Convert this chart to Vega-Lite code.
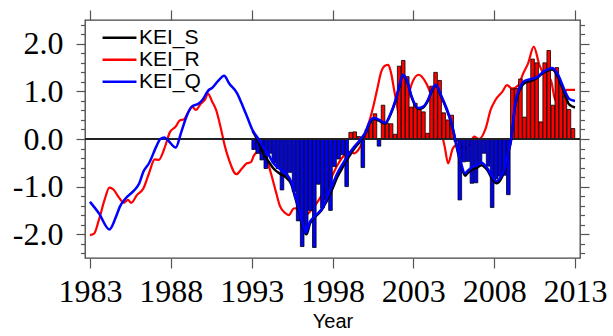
{
  "$schema": "https://vega.github.io/schema/vega-lite/v6.json",
  "width": 495,
  "height": 238,
  "autosize": {"type": "none"},
  "padding": {"left": 85, "top": 20, "right": 33, "bottom": 78},
  "background": "white",
  "view": {"stroke": "#444", "strokeWidth": 1.3},
  "config": {
    "axis": {"grid": false, "domain": false, "tickColor": "#555", "tickWidth": 1.2, "labelFont": "Liberation Serif", "labelFontSize": 32, "labelColor": "#000"}
  },
  "datasets": {
    "bars": [
      {"year": 1993.125, "value": -0.22}, {"year": 1993.375, "value": -0.3}, {"year": 1993.625, "value": -0.44}, {"year": 1993.875, "value": -0.62},
      {"year": 1994.125, "value": -0.3}, {"year": 1994.375, "value": -0.5}, {"year": 1994.625, "value": -0.62}, {"year": 1994.875, "value": -1.07},
      {"year": 1995.125, "value": -0.78}, {"year": 1995.375, "value": -0.7}, {"year": 1995.625, "value": -1.1}, {"year": 1995.875, "value": -1.72},
      {"year": 1996.125, "value": -2.26}, {"year": 1996.375, "value": -1.95}, {"year": 1996.625, "value": -1.5}, {"year": 1996.875, "value": -2.28},
      {"year": 1997.125, "value": -0.95}, {"year": 1997.375, "value": -1.45}, {"year": 1997.625, "value": -1.28}, {"year": 1997.875, "value": -1.5},
      {"year": 1998.125, "value": -0.58}, {"year": 1998.375, "value": -0.42}, {"year": 1998.625, "value": -0.33}, {"year": 1998.875, "value": -1.0},
      {"year": 1999.125, "value": 0.14}, {"year": 1999.375, "value": 0.15}, {"year": 1999.625, "value": 0.05}, {"year": 1999.875, "value": -0.6},
      {"year": 2000.125, "value": 0.2}, {"year": 2000.375, "value": 0.36}, {"year": 2000.625, "value": 0.53}, {"year": 2000.875, "value": -0.15},
      {"year": 2001.125, "value": 0.71}, {"year": 2001.375, "value": 0.33}, {"year": 2001.625, "value": 0.32}, {"year": 2001.875, "value": 0.1},
      {"year": 2002.125, "value": 1.53}, {"year": 2002.375, "value": 1.65}, {"year": 2002.625, "value": 1.31}, {"year": 2002.875, "value": 0.67},
      {"year": 2003.125, "value": 0.75}, {"year": 2003.375, "value": 0.62}, {"year": 2003.625, "value": 0.57}, {"year": 2003.875, "value": 0.12},
      {"year": 2004.125, "value": 1.11}, {"year": 2004.375, "value": 1.4}, {"year": 2004.625, "value": 1.23}, {"year": 2004.875, "value": 0.55},
      {"year": 2005.125, "value": 0.4}, {"year": 2005.375, "value": 0.5}, {"year": 2005.625, "value": -0.05}, {"year": 2005.875, "value": -1.28},
      {"year": 2006.125, "value": -0.48}, {"year": 2006.375, "value": -0.47}, {"year": 2006.625, "value": -0.93}, {"year": 2006.875, "value": -0.92},
      {"year": 2007.125, "value": -0.5}, {"year": 2007.375, "value": -0.3}, {"year": 2007.625, "value": -0.57}, {"year": 2007.875, "value": -1.44},
      {"year": 2008.125, "value": -0.83}, {"year": 2008.375, "value": -0.78}, {"year": 2008.625, "value": -0.76}, {"year": 2008.875, "value": -1.17},
      {"year": 2009.125, "value": 1.05}, {"year": 2009.375, "value": 1.06}, {"year": 2009.625, "value": 1.26}, {"year": 2009.875, "value": 0.46},
      {"year": 2010.125, "value": 1.24}, {"year": 2010.375, "value": 1.68}, {"year": 2010.625, "value": 1.6}, {"year": 2010.875, "value": 0.36},
      {"year": 2011.125, "value": 1.6}, {"year": 2011.375, "value": 1.86}, {"year": 2011.625, "value": 0.71}, {"year": 2011.875, "value": 1.5},
      {"year": 2012.125, "value": 1.17}, {"year": 2012.375, "value": 0.9}, {"year": 2012.625, "value": 0.62}, {"year": 2012.875, "value": 0.22}
    ],
    "lines": [
      {"series": "KEI_Q", "year": 1983.0, "value": -1.32}, {"series": "KEI_Q", "year": 1983.55, "value": -1.56}, {"series": "KEI_Q", "year": 1984.2, "value": -1.9},
      {"series": "KEI_Q", "year": 1984.6, "value": -1.64}, {"series": "KEI_Q", "year": 1984.85, "value": -1.42}, {"series": "KEI_Q", "year": 1985.2, "value": -1.25},
      {"series": "KEI_Q", "year": 1985.7, "value": -1.09}, {"series": "KEI_Q", "year": 1986.05, "value": -0.93}, {"series": "KEI_Q", "year": 1986.3, "value": -0.69},
      {"series": "KEI_Q", "year": 1986.65, "value": -0.51}, {"series": "KEI_Q", "year": 1987.1, "value": -0.16}, {"series": "KEI_Q", "year": 1987.35, "value": 0.0},
      {"series": "KEI_Q", "year": 1987.6, "value": 0.03}, {"series": "KEI_Q", "year": 1987.8, "value": -0.02}, {"series": "KEI_Q", "year": 1988.3, "value": -0.18},
      {"series": "KEI_Q", "year": 1988.65, "value": 0.15}, {"series": "KEI_Q", "year": 1989.0, "value": 0.5}, {"series": "KEI_Q", "year": 1989.3, "value": 0.68},
      {"series": "KEI_Q", "year": 1989.7, "value": 0.74}, {"series": "KEI_Q", "year": 1989.95, "value": 0.82}, {"series": "KEI_Q", "year": 1990.35, "value": 1.03},
      {"series": "KEI_Q", "year": 1990.55, "value": 1.07}, {"series": "KEI_Q", "year": 1990.9, "value": 1.21}, {"series": "KEI_Q", "year": 1991.3, "value": 1.33},
      {"series": "KEI_Q", "year": 1991.6, "value": 1.17}, {"series": "KEI_Q", "year": 1992.1, "value": 0.96}, {"series": "KEI_Q", "year": 1992.45, "value": 0.69},
      {"series": "KEI_Q", "year": 1992.75, "value": 0.44}, {"series": "KEI_Q", "year": 1993.05, "value": 0.19}, {"series": "KEI_Q", "year": 1993.4, "value": 0.01},
      {"series": "KEI_Q", "year": 1993.7, "value": -0.16}, {"series": "KEI_Q", "year": 1994.0, "value": -0.3}, {"series": "KEI_Q", "year": 1994.35, "value": -0.51},
      {"series": "KEI_Q", "year": 1994.7, "value": -0.62}, {"series": "KEI_Q", "year": 1995.1, "value": -0.72}, {"series": "KEI_Q", "year": 1995.45, "value": -0.9},
      {"series": "KEI_Q", "year": 1995.7, "value": -1.2}, {"series": "KEI_Q", "year": 1995.95, "value": -1.49}, {"series": "KEI_Q", "year": 1996.2, "value": -1.85},
      {"series": "KEI_Q", "year": 1996.35, "value": -1.97}, {"series": "KEI_Q", "year": 1996.6, "value": -1.74}, {"series": "KEI_Q", "year": 1996.85, "value": -1.64},
      {"series": "KEI_Q", "year": 1997.1, "value": -1.56}, {"series": "KEI_Q", "year": 1997.35, "value": -1.46}, {"series": "KEI_Q", "year": 1997.6, "value": -1.28},
      {"series": "KEI_Q", "year": 1997.95, "value": -1.0}, {"series": "KEI_Q", "year": 1998.3, "value": -0.72}, {"series": "KEI_Q", "year": 1998.65, "value": -0.51},
      {"series": "KEI_Q", "year": 1999.0, "value": -0.32}, {"series": "KEI_Q", "year": 1999.35, "value": -0.16}, {"series": "KEI_Q", "year": 1999.7, "value": -0.02},
      {"series": "KEI_Q", "year": 2000.05, "value": 0.15}, {"series": "KEI_Q", "year": 2000.3, "value": 0.36}, {"series": "KEI_Q", "year": 2000.55, "value": 0.44},
      {"series": "KEI_Q", "year": 2000.9, "value": 0.4}, {"series": "KEI_Q", "year": 2001.25, "value": 0.34}, {"series": "KEI_Q", "year": 2001.6, "value": 0.54},
      {"series": "KEI_Q", "year": 2001.9, "value": 0.82}, {"series": "KEI_Q", "year": 2002.15, "value": 1.14}, {"series": "KEI_Q", "year": 2002.35, "value": 1.35},
      {"series": "KEI_Q", "year": 2002.6, "value": 1.24}, {"series": "KEI_Q", "year": 2002.9, "value": 0.89}, {"series": "KEI_Q", "year": 2003.3, "value": 0.65},
      {"series": "KEI_Q", "year": 2003.6, "value": 0.68}, {"series": "KEI_Q", "year": 2003.9, "value": 0.82}, {"series": "KEI_Q", "year": 2004.2, "value": 1.07},
      {"series": "KEI_Q", "year": 2004.4, "value": 1.14}, {"series": "KEI_Q", "year": 2004.7, "value": 0.93}, {"series": "KEI_Q", "year": 2005.05, "value": 0.65},
      {"series": "KEI_Q", "year": 2005.4, "value": 0.29}, {"series": "KEI_Q", "year": 2005.65, "value": -0.09}, {"series": "KEI_Q", "year": 2005.9, "value": -0.44},
      {"series": "KEI_Q", "year": 2006.2, "value": -0.72}, {"series": "KEI_Q", "year": 2006.35, "value": -0.67}, {"series": "KEI_Q", "year": 2006.6, "value": -0.6},
      {"series": "KEI_Q", "year": 2006.95, "value": -0.55}, {"series": "KEI_Q", "year": 2007.2, "value": -0.5}, {"series": "KEI_Q", "year": 2007.55, "value": -0.6},
      {"series": "KEI_Q", "year": 2007.9, "value": -0.8}, {"series": "KEI_Q", "year": 2008.15, "value": -0.88}, {"series": "KEI_Q", "year": 2008.4, "value": -0.8},
      {"series": "KEI_Q", "year": 2008.65, "value": -0.62}, {"series": "KEI_Q", "year": 2008.85, "value": -0.3}, {"series": "KEI_Q", "year": 2009.05, "value": 0.0},
      {"series": "KEI_Q", "year": 2009.3, "value": 0.75}, {"series": "KEI_Q", "year": 2009.55, "value": 1.05}, {"series": "KEI_Q", "year": 2009.9, "value": 1.22},
      {"series": "KEI_Q", "year": 2010.3, "value": 1.26}, {"series": "KEI_Q", "year": 2010.65, "value": 1.3}, {"series": "KEI_Q", "year": 2011.0, "value": 1.4},
      {"series": "KEI_Q", "year": 2011.6, "value": 1.49}, {"series": "KEI_Q", "year": 2011.95, "value": 1.35}, {"series": "KEI_Q", "year": 2012.3, "value": 1.07},
      {"series": "KEI_Q", "year": 2012.65, "value": 0.84}, {"series": "KEI_Q", "year": 2013.0, "value": 0.8},

      {"series": "KEI_S", "year": 1993.05, "value": 0.17}, {"series": "KEI_S", "year": 1993.4, "value": -0.05}, {"series": "KEI_S", "year": 1993.7, "value": -0.3},
      {"series": "KEI_S", "year": 1994.0, "value": -0.45}, {"series": "KEI_S", "year": 1994.35, "value": -0.62}, {"series": "KEI_S", "year": 1994.7, "value": -0.72},
      {"series": "KEI_S", "year": 1995.1, "value": -0.8}, {"series": "KEI_S", "year": 1995.45, "value": -0.95}, {"series": "KEI_S", "year": 1995.7, "value": -1.24},
      {"series": "KEI_S", "year": 1995.95, "value": -1.55}, {"series": "KEI_S", "year": 1996.2, "value": -1.9}, {"series": "KEI_S", "year": 1996.4, "value": -2.0},
      {"series": "KEI_S", "year": 1996.6, "value": -1.78}, {"series": "KEI_S", "year": 1996.85, "value": -1.66}, {"series": "KEI_S", "year": 1997.1, "value": -1.58},
      {"series": "KEI_S", "year": 1997.35, "value": -1.48}, {"series": "KEI_S", "year": 1997.6, "value": -1.33}, {"series": "KEI_S", "year": 1997.95, "value": -1.08},
      {"series": "KEI_S", "year": 1998.3, "value": -0.8}, {"series": "KEI_S", "year": 1998.65, "value": -0.58}, {"series": "KEI_S", "year": 1999.0, "value": -0.38},
      {"series": "KEI_S", "year": 1999.35, "value": -0.2}, {"series": "KEI_S", "year": 1999.7, "value": -0.05}, {"series": "KEI_S", "year": 2000.05, "value": 0.12},
      {"series": "KEI_S", "year": 2000.3, "value": 0.33}, {"series": "KEI_S", "year": 2000.55, "value": 0.42}, {"series": "KEI_S", "year": 2000.9, "value": 0.38},
      {"series": "KEI_S", "year": 2001.25, "value": 0.32}, {"series": "KEI_S", "year": 2001.6, "value": 0.52}, {"series": "KEI_S", "year": 2001.9, "value": 0.8},
      {"series": "KEI_S", "year": 2002.15, "value": 1.12}, {"series": "KEI_S", "year": 2002.35, "value": 1.33}, {"series": "KEI_S", "year": 2002.6, "value": 1.22},
      {"series": "KEI_S", "year": 2002.9, "value": 0.87}, {"series": "KEI_S", "year": 2003.3, "value": 0.63}, {"series": "KEI_S", "year": 2003.6, "value": 0.66},
      {"series": "KEI_S", "year": 2003.9, "value": 0.8}, {"series": "KEI_S", "year": 2004.2, "value": 1.05}, {"series": "KEI_S", "year": 2004.4, "value": 1.12},
      {"series": "KEI_S", "year": 2004.7, "value": 0.91}, {"series": "KEI_S", "year": 2005.05, "value": 0.63}, {"series": "KEI_S", "year": 2005.4, "value": 0.27},
      {"series": "KEI_S", "year": 2005.65, "value": -0.12}, {"series": "KEI_S", "year": 2005.9, "value": -0.48}, {"series": "KEI_S", "year": 2006.2, "value": -0.77},
      {"series": "KEI_S", "year": 2006.35, "value": -0.72}, {"series": "KEI_S", "year": 2006.6, "value": -0.65}, {"series": "KEI_S", "year": 2006.95, "value": -0.6},
      {"series": "KEI_S", "year": 2007.2, "value": -0.55}, {"series": "KEI_S", "year": 2007.55, "value": -0.64}, {"series": "KEI_S", "year": 2007.9, "value": -0.85},
      {"series": "KEI_S", "year": 2008.15, "value": -0.93}, {"series": "KEI_S", "year": 2008.4, "value": -0.85}, {"series": "KEI_S", "year": 2008.65, "value": -0.66},
      {"series": "KEI_S", "year": 2008.85, "value": -0.33}, {"series": "KEI_S", "year": 2009.05, "value": -0.02}, {"series": "KEI_S", "year": 2009.3, "value": 0.7},
      {"series": "KEI_S", "year": 2009.55, "value": 1.0}, {"series": "KEI_S", "year": 2009.9, "value": 1.18}, {"series": "KEI_S", "year": 2010.3, "value": 1.22},
      {"series": "KEI_S", "year": 2010.65, "value": 1.28}, {"series": "KEI_S", "year": 2011.0, "value": 1.38}, {"series": "KEI_S", "year": 2011.6, "value": 1.46},
      {"series": "KEI_S", "year": 2011.95, "value": 1.3}, {"series": "KEI_S", "year": 2012.3, "value": 1.0}, {"series": "KEI_S", "year": 2012.65, "value": 0.72},
      {"series": "KEI_S", "year": 2013.0, "value": 0.66},

      {"series": "KEI_R", "year": 1983.0, "value": -2.02}, {"series": "KEI_R", "year": 1983.25, "value": -1.99}, {"series": "KEI_R", "year": 1983.55, "value": -1.7},
      {"series": "KEI_R", "year": 1983.9, "value": -1.28}, {"series": "KEI_R", "year": 1984.2, "value": -1.02}, {"series": "KEI_R", "year": 1984.45, "value": -1.06},
      {"series": "KEI_R", "year": 1984.75, "value": -1.21}, {"series": "KEI_R", "year": 1985.1, "value": -1.34}, {"series": "KEI_R", "year": 1985.35, "value": -1.28},
      {"series": "KEI_R", "year": 1985.55, "value": -1.34}, {"series": "KEI_R", "year": 1985.9, "value": -1.18}, {"series": "KEI_R", "year": 1986.3, "value": -1.04},
      {"series": "KEI_R", "year": 1986.65, "value": -0.72}, {"series": "KEI_R", "year": 1987.0, "value": -0.43}, {"series": "KEI_R", "year": 1987.25, "value": -0.44},
      {"series": "KEI_R", "year": 1987.6, "value": -0.2}, {"series": "KEI_R", "year": 1987.95, "value": 0.15}, {"series": "KEI_R", "year": 1988.3, "value": 0.26},
      {"series": "KEI_R", "year": 1988.55, "value": 0.39}, {"series": "KEI_R", "year": 1988.8, "value": 0.41}, {"series": "KEI_R", "year": 1989.15, "value": 0.61},
      {"series": "KEI_R", "year": 1989.3, "value": 0.68}, {"series": "KEI_R", "year": 1989.55, "value": 0.61}, {"series": "KEI_R", "year": 1989.85, "value": 0.74},
      {"series": "KEI_R", "year": 1990.1, "value": 0.82}, {"series": "KEI_R", "year": 1990.3, "value": 0.95}, {"series": "KEI_R", "year": 1990.55, "value": 0.79},
      {"series": "KEI_R", "year": 1990.8, "value": 0.61}, {"series": "KEI_R", "year": 1991.05, "value": 0.29}, {"series": "KEI_R", "year": 1991.35, "value": -0.16},
      {"series": "KEI_R", "year": 1991.6, "value": -0.44}, {"series": "KEI_R", "year": 1992.05, "value": -0.74}, {"series": "KEI_R", "year": 1992.4, "value": -0.62},
      {"series": "KEI_R", "year": 1992.7, "value": -0.51}, {"series": "KEI_R", "year": 1992.95, "value": -0.49}, {"series": "KEI_R", "year": 1993.15, "value": -0.34},
      {"series": "KEI_R", "year": 1993.4, "value": -0.27}, {"series": "KEI_R", "year": 1993.65, "value": -0.34}, {"series": "KEI_R", "year": 1994.0, "value": -0.51},
      {"series": "KEI_R", "year": 1994.25, "value": -0.79}, {"series": "KEI_R", "year": 1994.5, "value": -1.11}, {"series": "KEI_R", "year": 1994.75, "value": -1.41},
      {"series": "KEI_R", "year": 1995.1, "value": -1.56}, {"series": "KEI_R", "year": 1995.3, "value": -1.6}, {"series": "KEI_R", "year": 1995.6, "value": -1.46},
      {"series": "KEI_R", "year": 1995.9, "value": -1.45}, {"series": "KEI_R", "year": 1996.3, "value": -1.6}, {"series": "KEI_R", "year": 1996.8, "value": -1.45},
      {"series": "KEI_R", "year": 1997.3, "value": -1.2}, {"series": "KEI_R", "year": 1997.8, "value": -0.9}, {"series": "KEI_R", "year": 1998.3, "value": -0.55},
      {"series": "KEI_R", "year": 1998.7, "value": -0.35}, {"series": "KEI_R", "year": 1999.0, "value": -0.28}, {"series": "KEI_R", "year": 1999.35, "value": -0.3},
      {"series": "KEI_R", "year": 1999.6, "value": -0.23}, {"series": "KEI_R", "year": 1999.85, "value": -0.06}, {"series": "KEI_R", "year": 2000.05, "value": 0.15},
      {"series": "KEI_R", "year": 2000.3, "value": 0.4}, {"series": "KEI_R", "year": 2000.55, "value": 0.72}, {"series": "KEI_R", "year": 2000.8, "value": 1.1},
      {"series": "KEI_R", "year": 2001.0, "value": 1.4}, {"series": "KEI_R", "year": 2001.25, "value": 1.54}, {"series": "KEI_R", "year": 2001.45, "value": 1.56},
      {"series": "KEI_R", "year": 2001.6, "value": 1.42}, {"series": "KEI_R", "year": 2001.85, "value": 0.96}, {"series": "KEI_R", "year": 2002.05, "value": 0.6},
      {"series": "KEI_R", "year": 2002.3, "value": 0.3}, {"series": "KEI_R", "year": 2002.5, "value": 0.45}, {"series": "KEI_R", "year": 2002.7, "value": 0.89},
      {"series": "KEI_R", "year": 2002.95, "value": 1.2}, {"series": "KEI_R", "year": 2003.33, "value": 1.35}, {"series": "KEI_R", "year": 2003.6, "value": 1.28},
      {"series": "KEI_R", "year": 2003.83, "value": 1.15}, {"series": "KEI_R", "year": 2004.13, "value": 0.89}, {"series": "KEI_R", "year": 2004.55, "value": 0.4},
      {"series": "KEI_R", "year": 2004.94, "value": -0.16}, {"series": "KEI_R", "year": 2005.15, "value": -0.51}, {"series": "KEI_R", "year": 2005.45, "value": -0.19},
      {"series": "KEI_R", "year": 2005.8, "value": -0.1}, {"series": "KEI_R", "year": 2006.2, "value": -0.2}, {"series": "KEI_R", "year": 2006.5, "value": -0.1},
      {"series": "KEI_R", "year": 2006.76, "value": 0.05}, {"series": "KEI_R", "year": 2007.05, "value": 0.0}, {"series": "KEI_R", "year": 2007.47, "value": 0.22},
      {"series": "KEI_R", "year": 2007.78, "value": 0.61}, {"series": "KEI_R", "year": 2008.08, "value": 0.82}, {"series": "KEI_R", "year": 2008.5, "value": 0.99},
      {"series": "KEI_R", "year": 2008.8, "value": 1.13}, {"series": "KEI_R", "year": 2009.1, "value": 1.06}, {"series": "KEI_R", "year": 2009.5, "value": 1.13},
      {"series": "KEI_R", "year": 2009.8, "value": 1.38}, {"series": "KEI_R", "year": 2010.1, "value": 1.59}, {"series": "KEI_R", "year": 2010.45, "value": 1.94},
      {"series": "KEI_R", "year": 2010.8, "value": 1.55}, {"series": "KEI_R", "year": 2011.1, "value": 1.34}, {"series": "KEI_R", "year": 2011.5, "value": 1.24},
      {"series": "KEI_R", "year": 2011.8, "value": 0.8}, {"series": "KEI_R", "year": 2012.1, "value": 0.84}, {"series": "KEI_R", "year": 2012.5, "value": 1.03},
      {"series": "KEI_R", "year": 2013.0, "value": 1.03}
    ]
  },
  "layer": [
    {
      "data": {"name": "lines"},
      "transform": [{"filter": "datum.series === 'KEI_R'"}],
      "mark": {"type": "line", "strokeWidth": 2.2, "interpolate": "monotone"},
      "encoding": {
        "x": {"field": "year", "type": "quantitative", "scale": {"domain": [1983, 2013], "nice": false, "zero": false},
              "axis": {"orient": "bottom", "values": [1983, 1988, 1993, 1998, 2003, 2008, 2013], "format": "d", "tickSize": 10, "labelPadding": 8, "labelFlush": false, "labelOverlap": false,
                       "title": "Year", "titleFont": "Liberation Sans", "titleFontSize": 20, "titleFontWeight": "normal", "titleColor": "#000", "titlePadding": 4}},
        "y": {"field": "value", "type": "quantitative", "scale": {"domain": [-2.5, 2.5], "nice": false, "zero": false},
              "axis": {"orient": "left", "values": [-2, -1, 0, 1, 2], "tickSize": 9, "labelPadding": 13, "title": null,
                       "labelExpr": "datum.value < 0 ? '-' + format(abs(datum.value), '.1f') : format(datum.value, '.1f')"}},
        "color": {"field": "series", "type": "nominal",
                  "scale": {"domain": ["KEI_S", "KEI_R", "KEI_Q"], "range": ["#000000", "#ff0000", "#0000ff"]},
                  "legend": {"orient": "none", "legendX": 16, "legendY": 8, "title": null, "symbolType": "stroke", "symbolSize": 1150, "symbolStrokeWidth": 2.5,
                             "labelFont": "Liberation Sans", "labelFontSize": 21, "labelColor": "#000", "labelOffset": 1, "clipHeight": 19.5, "rowPadding": 0, "padding": 0}}
      }
    },
    {
      "data": {"name": "bars"},
      "mark": {"type": "bar", "size": 3.6, "stroke": "#000", "strokeWidth": 0.8},
      "encoding": {
        "x": {"field": "year", "type": "quantitative", "scale": {"domain": [1983, 2013], "nice": false, "zero": false},
              "axis": {"orient": "top", "values": [1983, 1988, 1993, 1998, 2003, 2008, 2013], "tickSize": 10, "labels": false, "title": null}},
        "y": {"field": "value", "type": "quantitative", "scale": {"domain": [-2.5, 2.5], "nice": false, "zero": false},
              "axis": {"orient": "left", "values": [-2.4, -2.2, -1.8, -1.6, -1.4, -1.2, -0.8, -0.6, -0.4, -0.2, 0.2, 0.4, 0.6, 0.8, 1.2, 1.4, 1.6, 1.8, 2.2, 2.4], "tickSize": 4.5, "labels": false, "title": null}},
        "y2": {"datum": 0},
        "fill": {"condition": {"test": "datum.value > 0", "value": "#ff0000"}, "value": "#0000ff"}
      }
    },
    {
      "data": {"name": "bars"},
      "mark": {"type": "rule", "color": "#222", "strokeWidth": 1},
      "encoding": {"y": {"datum": 0, "type": "quantitative", "axis": null}}
    },
    {
      "data": {"name": "lines"},
      "transform": [{"filter": "datum.series === 'KEI_S'"}],
      "mark": {"type": "line", "strokeWidth": 2.5, "interpolate": "monotone"},
      "encoding": {
        "x": {"field": "year", "type": "quantitative", "axis": null},
        "y": {"field": "value", "type": "quantitative",
              "axis": {"orient": "right", "values": [-2, -1, 0, 1, 2], "tickSize": 9, "labels": false, "title": null}},
        "color": {"field": "series", "type": "nominal"}
      }
    },
    {
      "data": {"name": "lines"},
      "transform": [{"filter": "datum.series === 'KEI_Q'"}],
      "mark": {"type": "line", "strokeWidth": 2.5, "interpolate": "monotone"},
      "encoding": {
        "x": {"field": "year", "type": "quantitative", "axis": null},
        "y": {"field": "value", "type": "quantitative",
              "axis": {"orient": "right", "values": [-2.4, -2.2, -1.8, -1.6, -1.4, -1.2, -0.8, -0.6, -0.4, -0.2, 0.2, 0.4, 0.6, 0.8, 1.2, 1.4, 1.6, 1.8, 2.2, 2.4], "tickSize": 4.5, "labels": false, "title": null}},
        "color": {"field": "series", "type": "nominal"}
      }
    }
  ],
  "resolve": {"axis": {"x": "independent", "y": "independent"}}
}
